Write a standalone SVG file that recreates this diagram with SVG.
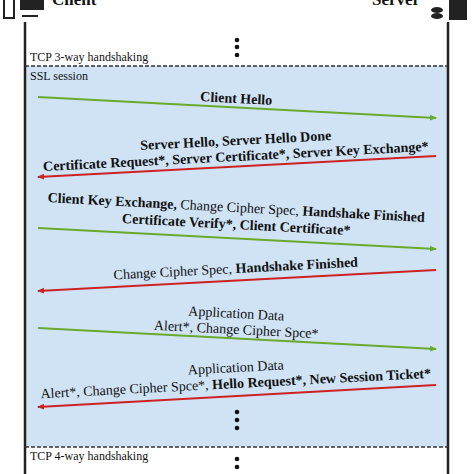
<svg xmlns="http://www.w3.org/2000/svg" width="474" height="474" viewBox="0 0 474 474">
<style>
text{font-family:'Liberation Serif','Times New Roman',Times,serif;font-size:14px;fill:#111}
.b{font-weight:bold}
.s{font-size:12px}
.g{stroke:#6aa82e;stroke-width:2;fill:none}
.r{stroke:#cc2222;stroke-width:2;fill:none}
.life{stroke:#222;stroke-width:2.5}
.dash{stroke:#333;stroke-width:1.5;stroke-dasharray:4 2}
</style>
<defs>
<marker id="ag" markerWidth="8" markerHeight="8" refX="6" refY="4" orient="auto" markerUnits="userSpaceOnUse"><path d="M0,1L7,4L0,7Z" fill="#6aa82e"/></marker>
<marker id="ar" markerWidth="8" markerHeight="8" refX="6" refY="4" orient="auto" markerUnits="userSpaceOnUse"><path d="M0,1L7,4L0,7Z" fill="#cc2222"/></marker>
</defs>
<rect width="474" height="474" fill="#fff"/>
<rect x="25" y="66" width="423" height="381" fill="#cfe3f5"/>
<g id="client">
<rect x="4" y="-4" width="10" height="22" fill="none" stroke="#222" stroke-width="2"/>
<rect x="20" y="-4" width="24" height="14" fill="#222"/>
<rect x="22" y="15" width="16" height="2" fill="#222"/>
<text x="52" y="5" class="b" style="font-size:17px">Client</text>
</g>
<g id="server">
<text x="372" y="5" class="b" style="font-size:17px">Server</text>
<rect x="449" y="-4" width="18" height="24" fill="#222"/>
<ellipse cx="437" cy="10" rx="6" ry="3" fill="#222"/>
<ellipse cx="437" cy="16" rx="6" ry="3" fill="#222"/>
</g>
<line class="life" x1="25" y1="22" x2="25" y2="474"/>
<line class="life" x1="448" y1="22" x2="448" y2="474"/>
<line class="dash" x1="25" y1="66" x2="448" y2="66"/>
<line class="dash" x1="25" y1="447" x2="448" y2="447"/>
<text x="30" y="61" class="s">TCP 3-way handshaking</text>
<text x="30" y="80" class="s">SSL session</text>
<text x="30" y="460" class="s">TCP 4-way handshaking</text>
<g fill="#111">
<circle cx="237" cy="40" r="2.3"/><circle cx="237" cy="47" r="2.3"/><circle cx="237" cy="55" r="2.3"/>
<circle cx="237" cy="412" r="2.3"/><circle cx="237" cy="420" r="2.3"/><circle cx="237" cy="428" r="2.3"/>
<circle cx="237" cy="459" r="2.3"/><circle cx="237" cy="467" r="2.3"/>
</g>
<g id="connectors">
<line class="g" x1="38" y1="97" x2="436" y2="118" marker-end="url(#ag)"/>
<line class="r" x1="436" y1="156" x2="38" y2="177" marker-end="url(#ar)"/>
<line class="g" x1="38" y1="228" x2="436" y2="249" marker-end="url(#ag)"/>
<line class="r" x1="436" y1="270" x2="38" y2="291" marker-end="url(#ar)"/>
<line class="g" x1="38" y1="328" x2="436" y2="349" marker-end="url(#ag)"/>
<line class="r" x1="436" y1="385" x2="38" y2="407" marker-end="url(#ar)"/>
</g>
<g text-anchor="middle">
<text x="236" y="103" class="b" transform="rotate(3 236 103)">Client Hello</text>
<text x="236" y="145" transform="rotate(-3 236 145)"><tspan class="b">Server Hello,</tspan>  <tspan class="b">Server Hello Done</tspan></text>
<text x="236" y="161" transform="rotate(-3 236 161)"><tspan class="b">Certificate Request*,</tspan>  <tspan class="b">Server Certificate*,</tspan>  <tspan class="b">Server Key Exchange*</tspan></text>
<text x="236" y="212" transform="rotate(3 236 212)"><tspan class="b">Client Key Exchange,</tspan>  Change Cipher Spec,  <tspan class="b">Handshake Finished</tspan></text>
<text x="236" y="229" transform="rotate(3 236 229)"><tspan class="b">Certificate Verify*,</tspan>  <tspan class="b">Client Certificate*</tspan></text>
<text x="236" y="273" transform="rotate(-3 236 273)">Change Cipher Spec,  <tspan class="b">Handshake Finished</tspan></text>
<text x="236" y="318" transform="rotate(3 236 318)">Application Data</text>
<text x="236" y="334" transform="rotate(3 236 334)">Alert*,  Change Cipher Spce*</text>
<text x="236" y="372" transform="rotate(-3 236 372)">Application Data</text>
<text x="236" y="388" transform="rotate(-3 236 388)">Alert*,  Change Cipher Spce*,  <tspan class="b">Hello Request*,</tspan>  <tspan class="b">New Session Ticket*</tspan></text>
</g>
</svg>
